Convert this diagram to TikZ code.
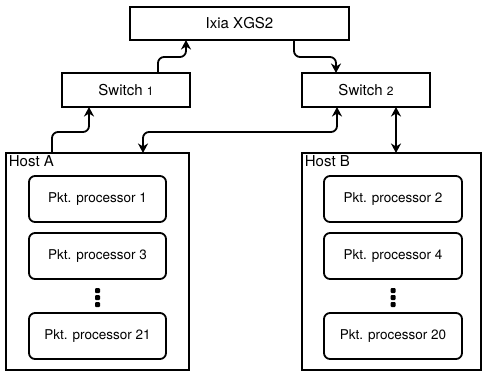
\documentclass[tikz,border=0pt]{standalone}
\usepackage{fontspec}
\setmainfont{TeX Gyre Heros}
\usetikzlibrary{arrows.meta, positioning, calc}

\begin{document}
\begin{tikzpicture}[x=1pt, y=1pt, >={Stealth[length=9.5pt, width=10pt, inset=3pt]}, line width=1.8pt,
    box/.style={rectangle, draw, outer sep=0pt, minimum width=128pt, minimum height=34pt, font=\fontsize{15}{16}\selectfont},
    host/.style={rectangle, draw, outer sep=0pt, minimum width=183pt, minimum height=217pt},
    hostlabel/.style={anchor=north west, inner sep=2pt, font=\fontsize{15}{16}\selectfont},
    pkt/.style={rectangle, draw, rounded corners=6pt, outer sep=0pt, minimum width=137pt, minimum height=46pt, font=\fontsize{13.5}{16}\selectfont},
    vdots/.style={minimum height=19pt, minimum width=0pt, inner sep=0pt, outer sep=0pt},
    link/.style={rounded corners=6pt}]
    \useasboundingbox (0,0) rectangle (482,-372);

    % Nodes
    \node (ixia) [box, minimum width=219pt, minimum height=33pt] at (239.5,-23.5) {Ixia XGS2};
    \node (sw1) [box] at (126,-90) {Switch {\fontsize{12}{12}\selectfont 1}};
    \node (sw2) [box] at (366,-90) {Switch {\fontsize{12}{12}\selectfont 2}};

    \node (hostA) [host] at (97.5,-261.5) {};
    \node (hostB) [host, minimum width=179pt] at (391.5,-261.5) {};
    \node (labA) [hostlabel] at (hostA.north west) {Host A};
    \node (labB) [hostlabel] at (hostB.north west) {Host B};

    % Host A processors
    \node (p1) [pkt] at (97.5,-199) {Pkt. processor 1};
    \node (p3) [pkt, below=11pt of p1] {Pkt. processor 3};
    \node (dotsA) [vdots, below=9pt of p3] {};
    \node (p21) [pkt, below=6pt of dotsA] {Pkt. processor 21};

    % Host B processors
    \node (p2) [pkt, minimum width=138pt] at (393,-199) {Pkt. processor 2};
    \node (p4) [pkt, minimum width=138pt, below=11pt of p2] {Pkt. processor 4};
    \node (dotsB) [vdots, below=9pt of p4] {};
    \node (p20) [pkt, minimum width=138pt, below=6pt of dotsB] {Pkt. processor 20};

    \foreach \d in {dotsA, dotsB}
        \foreach \dy in {-7,0,7}
            \fill[rounded corners=1pt] ([shift={(-2.5,\dy-2.5)}]\d.center) rectangle ++(5,5);

    % Edges
    \draw[->, link] ([xshift=-45.5pt]hostA.north) -- ++(0,21) -| ([xshift=-37pt]sw1.south);
    \draw[->, link] ([xshift=32pt]sw1.north) -- ++(0,16) -| ([xshift=-53.5pt]ixia.south);
    \draw[->, link] ([xshift=54.5pt]ixia.south) -- ++(0,-17) -| ([xshift=-30pt]sw2.north);
    \draw[<->, link] ([xshift=-29pt]sw2.south) -- ++(0,-25) -| ([xshift=45.5pt]hostA.north);
    \draw[<->] ([xshift=30pt]sw2.south) -- ([xshift=30pt]sw2.south |- hostB.north);
\end{tikzpicture}
\end{document}
